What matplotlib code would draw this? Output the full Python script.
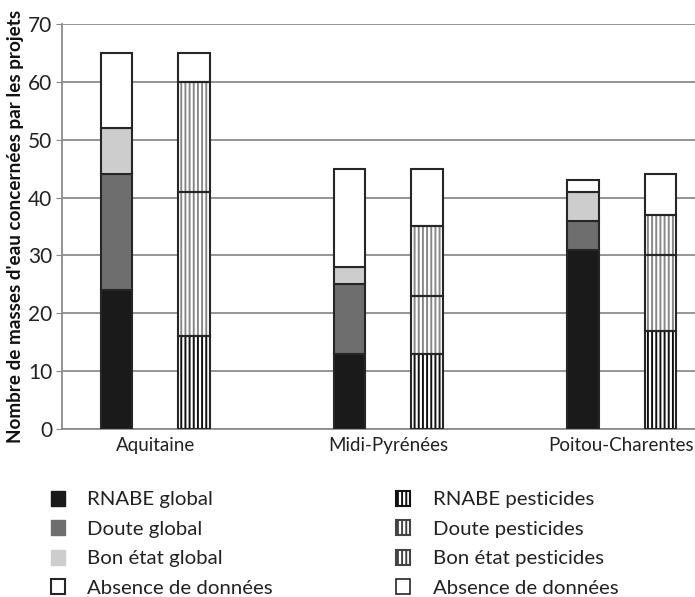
import numpy as np
import matplotlib.pyplot as plt
from matplotlib.patches import Patch

plt.rcParams['font.family'] = ['Lato', 'DejaVu Sans']
plt.rcParams['hatch.linewidth'] = 1.4

regions = ['Aquitaine', 'Midi-Pyrénées', 'Poitou-Charentes']

# global state of water bodies
rnabe_global = [24, 13, 31]
doute_global = [20, 12, 5]
bon_global = [8, 3, 5]
absence_global = [13, 17, 2]

# pesticides
rnabe_pest = [16, 13, 17]
doute_pest = [25, 10, 13]
bon_pest = [19, 12, 7]
absence_pest = [5, 10, 7]

labels_global = ['RNABE global', 'Doute global', 'Bon état global', 'Absence de données']
labels_pest = ['RNABE pesticides', 'Doute pesticides', 'Bon état pesticides', 'Absence de données']

EDGE = '#262626'
x = np.arange(len(regions))
off = 0.166
w = 0.135

fig = plt.figure(figsize=(6.95, 5.97), dpi=100)
ax = fig.add_axes([0.089, 0.2814, 0.911, 0.6786])

# global stacks
bottom = np.zeros(3)
fills = ['#1a1a1a', '#6e6e6e', '#cdcdcd', 'white']
for vals, fc in zip([rnabe_global, doute_global, bon_global, absence_global], fills):
    ax.bar(x - off, vals, w, bottom=bottom, color=fc, edgecolor=EDGE, linewidth=1.5, zorder=3)
    bottom += vals

# pesticide stacks: hatch layer then outline layer
bottom = np.zeros(3)
hcols = ['#111111', '#888888', '#888888', None]
for vals, hc in zip([rnabe_pest, doute_pest, bon_pest, absence_pest], hcols):
    if hc is not None:
        ax.bar(x + off, vals, w, bottom=bottom, color='white', edgecolor=hc,
               hatch='||||', linewidth=0, zorder=3)
    else:
        ax.bar(x + off, vals, w, bottom=bottom, color='white', linewidth=0, zorder=3)
    ax.bar(x + off, vals, w, bottom=bottom, fill=False, edgecolor=EDGE, linewidth=1.5, zorder=4)
    bottom += vals

ax.set_ylim(0, 70)
ax.set_xlim(-0.40, 2.315)
ax.set_yticks(range(0, 71, 10))
ax.set_xticks(x)
ax.set_xticklabels(regions, fontsize=13.5, color='#222222')
ax.tick_params(axis='y', labelsize=15, labelcolor='#222222', length=4, color='#888888', pad=3)
ax.tick_params(axis='x', length=0, pad=6)
ax.yaxis.grid(True, color='#8c8c8c', linewidth=1.3, zorder=0)
ax.set_axisbelow(True)
for s in ['top', 'right']:
    ax.spines[s].set_visible(False)
ax.spines['left'].set_color('#8c8c8c')
ax.spines['left'].set_linewidth(1.3)
ax.spines['bottom'].set_color('#8c8c8c')
ax.spines['bottom'].set_linewidth(1.3)
ax.set_ylabel("Nombre de masses d'eau concernées par les projets", fontsize=13.6,
              fontweight='bold', labelpad=3, color='#111111')

# legend
h_global = [
    Patch(facecolor='#1a1a1a', edgecolor='#1a1a1a'),
    Patch(facecolor='#6e6e6e', edgecolor='#6e6e6e'),
    Patch(facecolor='#cdcdcd', edgecolor='#cdcdcd'),
    Patch(facecolor='white', edgecolor=EDGE, linewidth=1.5),
]
h_pest = [
    Patch(facecolor='white', edgecolor='#111111', hatch='||||', linewidth=1.5),
    Patch(facecolor='white', edgecolor='#444444', hatch='||||', linewidth=1.5),
    Patch(facecolor='white', edgecolor='#444444', hatch='||||', linewidth=1.5),
    Patch(facecolor='white', edgecolor=EDGE, linewidth=1.2),
]
leg_kw = dict(loc='upper left', frameon=False, fontsize=14.7, labelcolor='#222222',
              handlelength=0.7, handleheight=0.75, handletextpad=1.1,
              labelspacing=0.58, borderpad=0, borderaxespad=0)
fig.legend(h_global, labels_global, bbox_to_anchor=(0.073, 0.178), **leg_kw)
fig.legend(h_pest, labels_pest, bbox_to_anchor=(0.570, 0.178), **leg_kw)

fig.savefig('out.png', dpi=100)
